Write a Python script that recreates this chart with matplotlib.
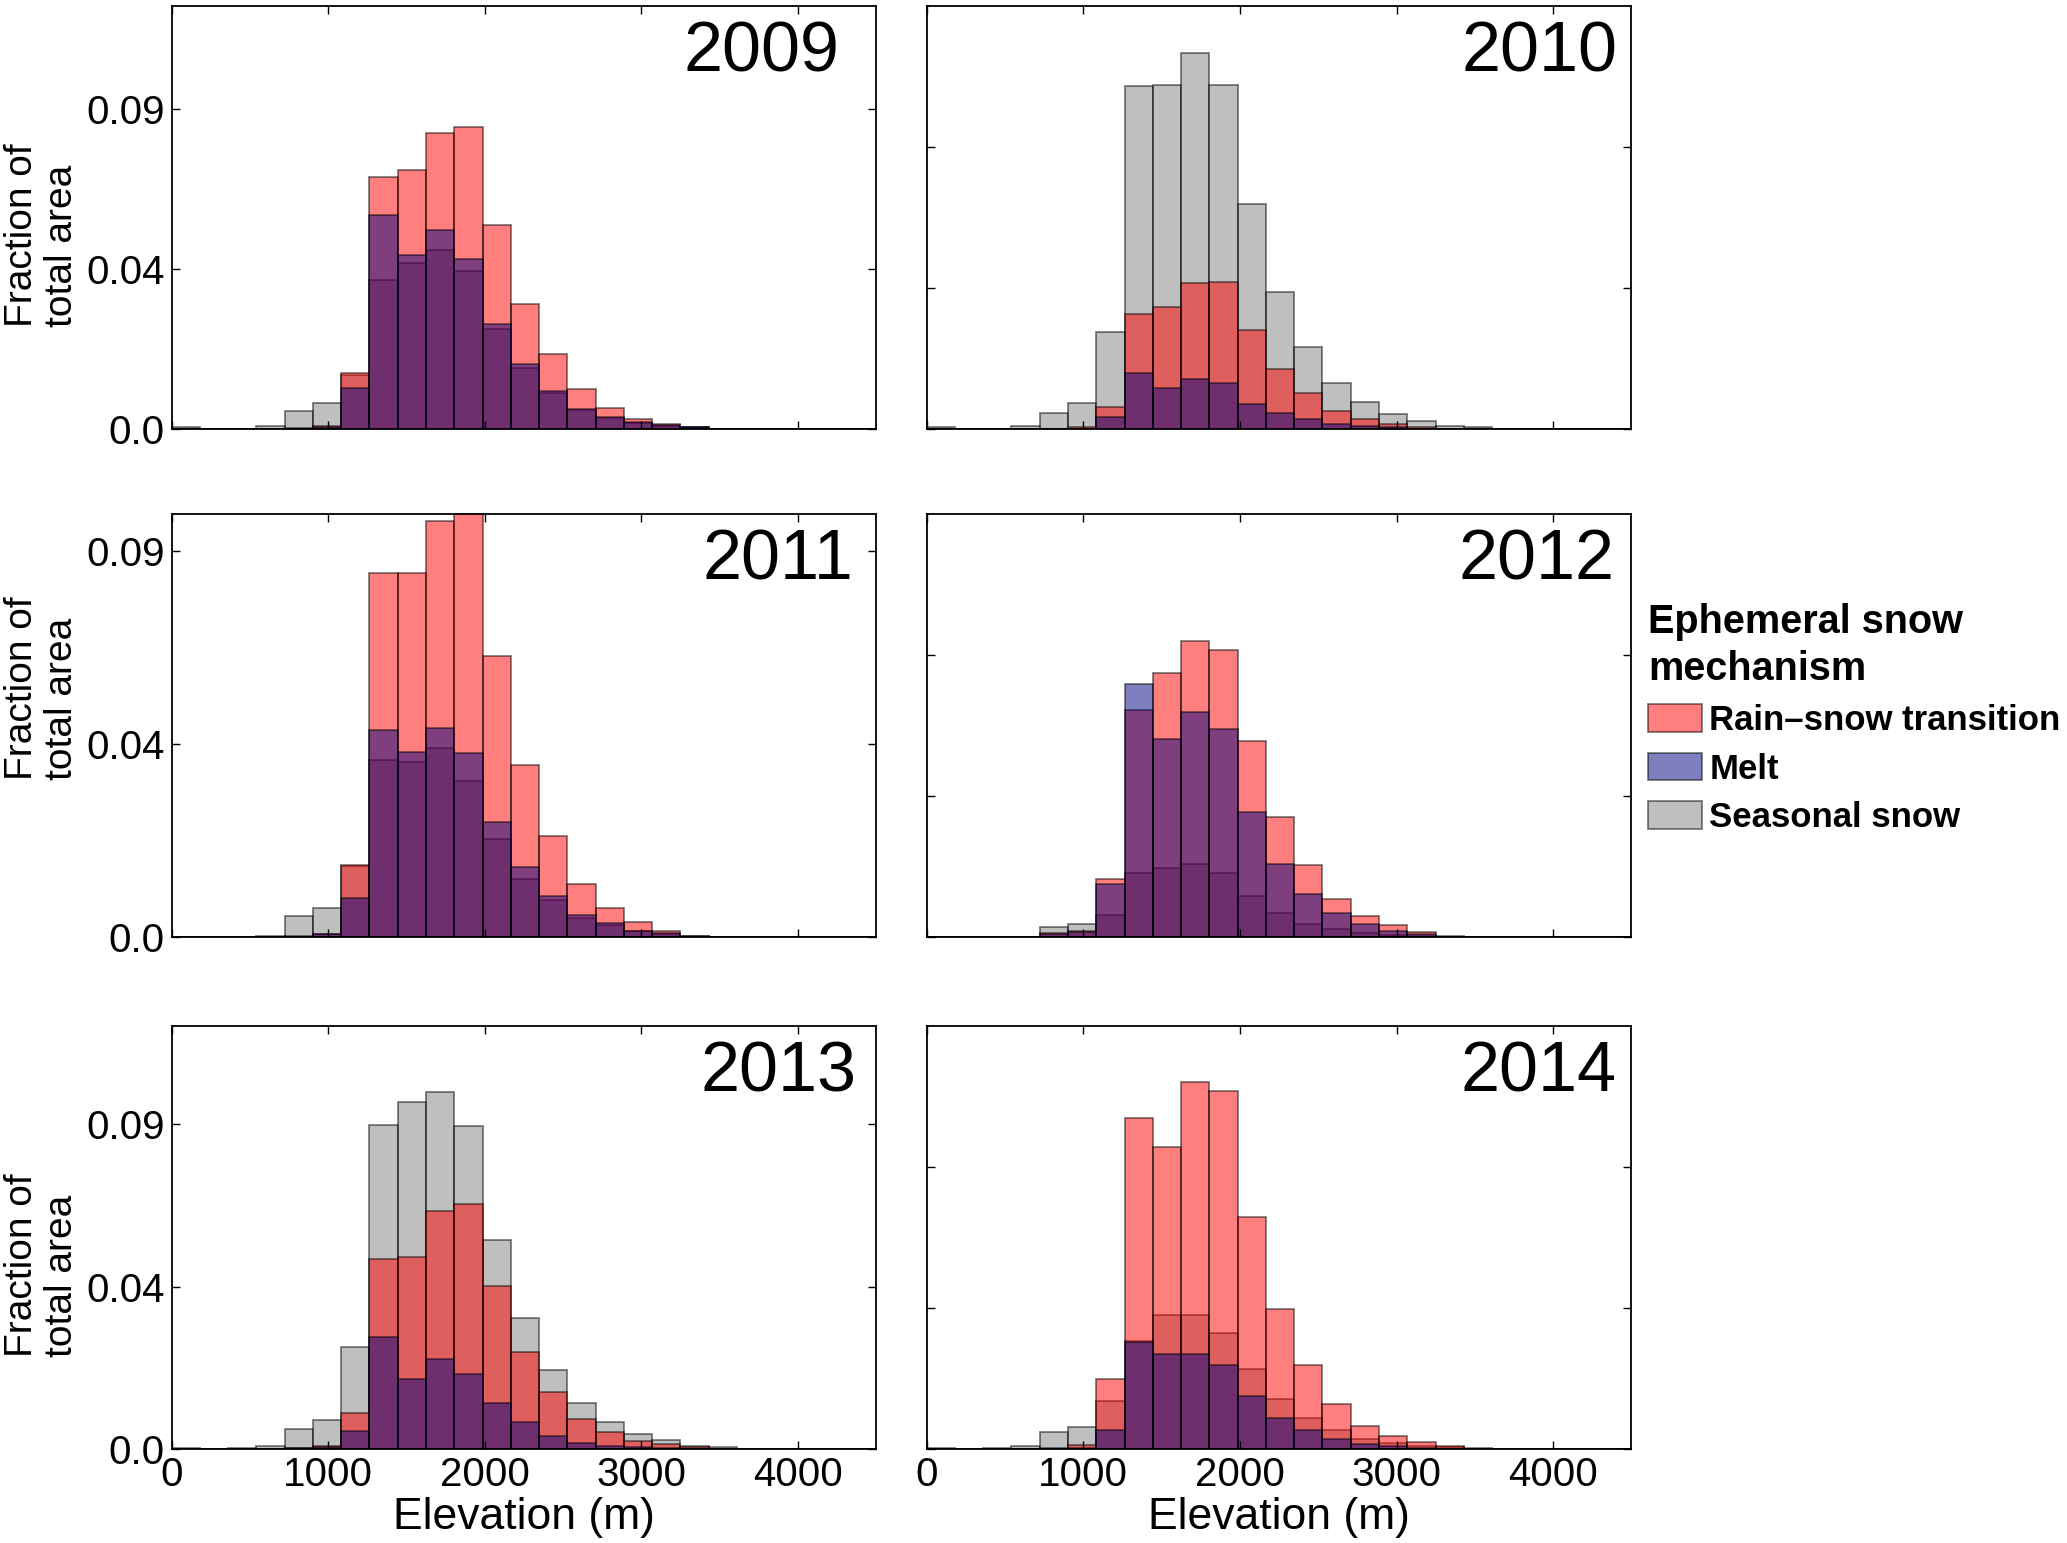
import matplotlib
matplotlib.use('Agg')
import matplotlib.pyplot as plt
import numpy as np

plt.rcParams['font.family'] = ['Liberation Sans', 'DejaVu Sans']
plt.rcParams['xtick.direction'] = 'in'
plt.rcParams['ytick.direction'] = 'in'
plt.rcParams['xtick.top'] = True
plt.rcParams['ytick.right'] = True

# elevation bins (m)
bin_width = 180.5
n_bins = 25
bin_left = np.arange(n_bins) * bin_width

years = ['2009', '2010', '2011', '2012', '2013', '2014']

# fraction of total area per elevation bin
seasonal = {
    '2009': [0.0005, 0, 0, 0.0010, 0.0052, 0.0073, 0.0152, 0.0419, 0.0468, 0.0504, 0.0445, 0.0282, 0.0173,
             0.0102, 0.0054, 0.0031, 0.0018, 0.0009, 0.0005, 0.0002, 0, 0, 0, 0, 0],
    '2010': [0.0005, 0, 0.0002, 0.0010, 0.0047, 0.0073, 0.0273, 0.0964, 0.0968, 0.1057, 0.0968, 0.0634, 0.0386,
             0.0232, 0.0130, 0.0077, 0.0043, 0.0023, 0.0010, 0.0005, 0, 0, 0, 0, 0],
    '2011': [0.0001, 0, 0, 0.0004, 0.0049, 0.0068, 0.0166, 0.0414, 0.0408, 0.0442, 0.0365, 0.0230, 0.0137,
             0.0087, 0.0045, 0.0029, 0.0014, 0.0007, 0.0002, 0, 0, 0, 0, 0, 0],
    '2012': [0, 0, 0, 0, 0.0024, 0.0032, 0.0052, 0.0149, 0.0161, 0.0172, 0.0149, 0.0097, 0.0056,
             0.0032, 0.0020, 0.0010, 0.0006, 0.0003, 0.0001, 0, 0, 0, 0, 0, 0],
    '2013': [0.0005, 0, 0.0004, 0.0010, 0.0056, 0.0081, 0.0284, 0.0896, 0.0959, 0.0987, 0.0893, 0.0579, 0.0362,
             0.0219, 0.0129, 0.0076, 0.0044, 0.0025, 0.0011, 0.0006, 0, 0, 0, 0, 0],
    '2014': [0.0005, 0, 0.0004, 0.0010, 0.0048, 0.0062, 0.0134, 0.0300, 0.0371, 0.0371, 0.0323, 0.0223, 0.0139,
             0.0086, 0.0053, 0.0030, 0.0018, 0.0011, 0.0006, 0.0002, 0, 0, 0, 0, 0],
}
rain_snow = {
    '2009': [0.0002, 0, 0, 0.0002, 0.0003, 0.0009, 0.0158, 0.0710, 0.0729, 0.0831, 0.0850, 0.0574, 0.0352,
             0.0211, 0.0112, 0.0059, 0.0029, 0.0015, 0.0006, 0.0002, 0, 0, 0, 0, 0],
    '2010': [0.0001, 0, 0, 0.0001, 0.0002, 0.0005, 0.0062, 0.0324, 0.0343, 0.0411, 0.0414, 0.0279, 0.0169,
             0.0101, 0.0052, 0.0028, 0.0014, 0.0006, 0.0002, 0.0001, 0, 0, 0, 0, 0],
    '2011': [0, 0, 0, 0.0001, 0.0003, 0.0008, 0.0168, 0.0848, 0.0848, 0.0971, 0.0990, 0.0655, 0.0401,
             0.0236, 0.0124, 0.0068, 0.0036, 0.0016, 0.0004, 0.0001, 0, 0, 0, 0, 0],
    '2012': [0, 0, 0, 0, 0.0010, 0.0016, 0.0137, 0.0530, 0.0615, 0.0690, 0.0670, 0.0458, 0.0280,
             0.0168, 0.0089, 0.0049, 0.0029, 0.0012, 0.0004, 0.0001, 0, 0, 0, 0, 0],
    '2013': [0.0001, 0, 0, 0.0001, 0.0004, 0.0009, 0.0100, 0.0526, 0.0531, 0.0660, 0.0679, 0.0451, 0.0270,
             0.0160, 0.0084, 0.0048, 0.0023, 0.0014, 0.0007, 0.0002, 0, 0, 0, 0, 0],
    '2014': [0.0001, 0, 0, 0.0001, 0.0005, 0.0013, 0.0195, 0.0916, 0.0835, 0.1015, 0.0989, 0.0641, 0.0389,
             0.0233, 0.0125, 0.0065, 0.0037, 0.0020, 0.0010, 0.0005, 0, 0, 0, 0, 0],
}
melt = {
    '2009': [0.0001, 0, 0, 0.0001, 0.0001, 0.0005, 0.0116, 0.0603, 0.0489, 0.0561, 0.0479, 0.0296, 0.0182,
             0.0107, 0.0057, 0.0034, 0.0020, 0.0011, 0.0006, 0.0002, 0, 0, 0, 0, 0],
    '2010': [0, 0, 0, 0, 0.0001, 0.0002, 0.0034, 0.0159, 0.0116, 0.0140, 0.0130, 0.0072, 0.0047,
             0.0028, 0.0014, 0.0008, 0.0005, 0.0002, 0.0001, 0, 0, 0, 0, 0, 0],
    '2011': [0, 0, 0, 0.0001, 0.0002, 0.0008, 0.0091, 0.0483, 0.0433, 0.0489, 0.0429, 0.0269, 0.0164,
             0.0097, 0.0052, 0.0033, 0.0015, 0.0010, 0.0003, 0, 0, 0, 0, 0, 0],
    '2012': [0, 0, 0, 0, 0.0008, 0.0012, 0.0124, 0.0591, 0.0462, 0.0526, 0.0486, 0.0293, 0.0172,
             0.0100, 0.0056, 0.0032, 0.0016, 0.0009, 0.0002, 0, 0, 0, 0, 0, 0],
    '2013': [0, 0, 0, 0.0001, 0.0005, 0.0008, 0.0051, 0.0312, 0.0195, 0.0251, 0.0209, 0.0129, 0.0076,
             0.0037, 0.0018, 0.0009, 0.0007, 0.0003, 0.0001, 0, 0, 0, 0, 0, 0],
    '2014': [0, 0, 0, 0, 0.0001, 0.0003, 0.0053, 0.0298, 0.0265, 0.0265, 0.0233, 0.0148, 0.0086,
             0.0053, 0.0028, 0.0016, 0.0009, 0.0005, 0.0002, 0, 0, 0, 0, 0, 0],
}

# upper y limit of each row
row_ymax = [0.119, 0.0987, 0.117]
left_ticks = [0, 0.045, 0.09]
left_ticklabels = ['0.0', '0.04', '0.09']
x_ticks = [0, 1000, 2000, 3000, 4000]

fig = plt.figure(figsize=(20.67, 15.43), dpi=100)

col_left = [0.083, 0.4483]
ax_w = 0.341
row_bottom = [0.7218, 0.3925, 0.0606]
ax_h = 0.2745
year_x = [0.727, 0.759, 0.753, 0.755, 0.750, 0.757]
ylabel_y = [0.458, 0.589, 0.434]

for i, yr in enumerate(years):
    r, c = i // 2, i % 2
    ax = fig.add_axes([col_left[c], row_bottom[r], ax_w, ax_h])
    ax.bar(bin_left, seasonal[yr], width=bin_width, align='edge', color='gray', alpha=0.5,
           edgecolor='black', linewidth=1.3, label='Seasonal snow')
    ax.bar(bin_left, rain_snow[yr], width=bin_width, align='edge', color='red', alpha=0.5,
           edgecolor='black', linewidth=1.3, label='Rain\u2013snow transition')
    ax.bar(bin_left, melt[yr], width=bin_width, align='edge', color='navy', alpha=0.5,
           edgecolor='black', linewidth=1.3, label='Melt')
    ymax = row_ymax[r]
    ax.set_xlim(0, 4500)
    ax.set_ylim(0, ymax)
    ax.set_xticks(x_ticks)
    for s in ax.spines.values():
        s.set_linewidth(1.3)
    ax.tick_params(length=6, width=1, labelsize=29, pad=5)
    if c == 0:
        ax.set_yticks(left_ticks)
        ax.set_yticklabels(left_ticklabels)
        ax.set_ylabel('Fraction of\ntotal area', fontsize=28, linespacing=1.15, multialignment='left')
        ax.yaxis.set_label_coords(-0.130, ylabel_y[r])
    else:
        ax.set_yticks([0, ymax / 3, 2 * ymax / 3])
        ax.set_yticklabels([])
    if r == 2:
        ax.set_xticklabels([str(t) for t in x_ticks])
        ax.set_xlabel('Elevation (m)', fontsize=32, labelpad=2)
    else:
        ax.set_xticklabels([])
    ax.text(year_x[i], 0.965, yr, transform=ax.transAxes, ha='left', va='top', fontsize=50.5)
    if i == 0:
        handles, labels = ax.get_legend_handles_labels()

order = [1, 2, 0]
leg = fig.legend([handles[k] for k in order], [labels[k] for k in order],
                 loc='upper left', bbox_to_anchor=(0.7975, 0.609), frameon=False,
                 title='Ephemeral snow\nmechanism', alignment='left',
                 prop={'weight': 'bold', 'size': 25},
                 title_fontproperties={'weight': 'bold', 'size': 28.5},
                 handlelength=1.55, handleheight=0.85, handletextpad=0.2,
                 labelspacing=0.45, borderpad=0, borderaxespad=0)
leg.get_title().set_linespacing(1.3)

fig.savefig('out.png', dpi=100)
